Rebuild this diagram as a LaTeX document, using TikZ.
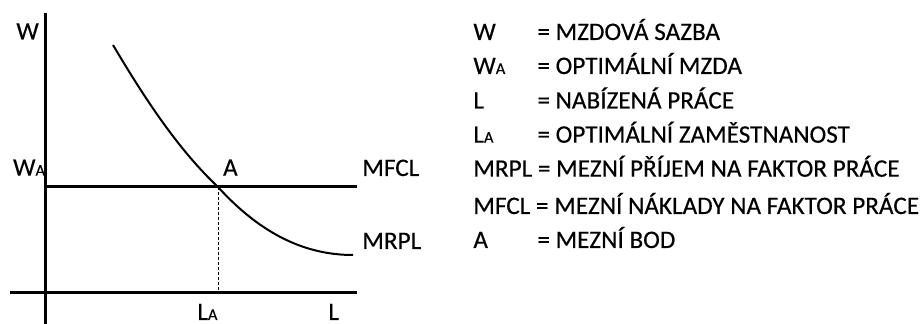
\documentclass[tikz,border=0pt]{standalone}
\usepackage{fontspec}
\setmainfont{Carlito}[FakeBold=0.35]
\newcommand{\idx}[1]{{\fontsize{8.2}{9}\selectfont #1}}
\newcommand{\symcol}{473}
\newcommand{\eqcol}{537}
\tikzset{
    axis/.style={line width=1.5pt},
    curve/.style={line width=1pt},
    guide/.style={dashed, line width=0.5pt, dash pattern=on 1.5pt off 1pt},
    lbl/.style={anchor=base west, inner sep=0pt, font=\fontsize{12.6}{15}\selectfont}
}
\begin{document}
\begin{tikzpicture}[x=0.5pt, y=-0.5pt]
            \useasboundingbox (0,0) rectangle (921,324);
            % axes
            \coordinate (ytop) at (45,13);
            \coordinate (ybot) at (45,324);
            \coordinate (xleft) at (10,293);
            \coordinate (xright) at (357,293);
            \coordinate (mleft) at (47,187);
            \coordinate (mright) at (357,187);
            \coordinate (A) at (218,187);
            \coordinate (LA) at (218,293);
            \coordinate (cstart) at (113,45);
            \coordinate (cend) at (353,255);
            \draw[axis] (ytop) -- (ybot);
            \draw[axis] (xleft) -- (xright);
            \draw[axis] (mleft) -- (mright);
            \draw[curve] (cstart) .. controls (148,104) and (180,151) .. (A)
                .. controls (263,236.5) and (308,255) .. (cend);
            \draw[guide] (A) -- (LA);

            % labels of the graph
            \node[lbl] (lW) at (16,39.5) {W};
            \node[lbl] (lWA) at (12.7,175.7) {W\idx{A}};
            \node[lbl] (lA) at (222.7,175.7) {A};
            \node[lbl] (lMFCL) at (362,176) {MFCL};
            \node[lbl] (lMRPL) at (362,249) {MRPL};
            \node[lbl] (lLA) at (197,320) {L\idx{A}};
            \node[lbl] (lL) at (328,320) {L};

            % legend
            \node[lbl] (kW) at (\symcol,40) {W};
            \node[lbl] (vW) at (\eqcol,40) {= MZDOVÁ SAZBA};
            \node[lbl] (kWA) at (\symcol,74) {W\idx{A}};
            \node[lbl] (vWA) at (\eqcol,74) {= OPTIMÁLNÍ MZDA};
            \node[lbl] (kL) at (\symcol,108.5) {L};
            \node[lbl] (vL) at (\eqcol,108.5) {= NABÍZENÁ PRÁCE};
            \node[lbl] (kLA) at (\symcol,142.7) {L\idx{A}};
            \node[lbl] (vLA) at (\eqcol,142.7) {= OPTIMÁLNÍ ZAMĚSTNANOST};
            \node[lbl] (kMRPL) at (\symcol,176.7) {MRPL = MEZNÍ PŘÍJEM NA FAKTOR PRÁCE};
            \node[lbl] (kMFCL) at (\symcol,214) {MFCL = MEZNÍ NÁKLADY NA FAKTOR PRÁCE};
            \node[lbl] (kA) at (\symcol,248) {A};
            \node[lbl] (vA) at (\eqcol,248) {= MEZNÍ BOD};
        \end{tikzpicture}
\end{document}
